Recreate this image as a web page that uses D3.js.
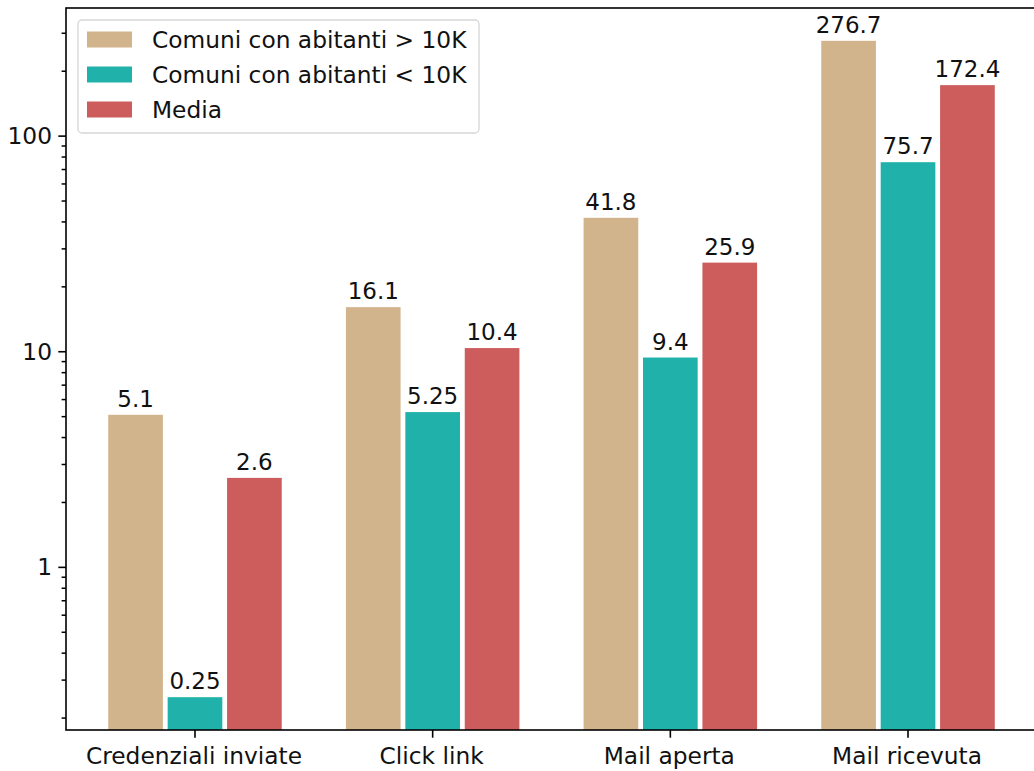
<!DOCTYPE html>
<html>
<head>
<meta charset="utf-8">
<script src="https://cdn.jsdelivr.net/npm/d3@7"></script>
<style>
  html, body { margin: 0; padding: 0; background: #fff; }
  svg { display: block; }
  text { font-family: "DejaVu Sans", sans-serif; fill: #111; }
</style>
</head>
<body>
<svg id="chart" width="1034" height="771"></svg>
<script>
const categories = ["Credenziali inviate", "Click link", "Mail aperta", "Mail ricevuta"];
const seriesNames = ["Comuni con abitanti > 10K", "Comuni con abitanti < 10K", "Media"];
const seriesColors = ["#D2B48C", "#20B2AA", "#CD5C5C"];
const valuesOver10K = [5.1, 16.1, 41.8, 276.7];
const valuesUnder10K = [0.25, 5.25, 9.4, 75.7];
const valuesMedia = [2.6, 10.4, 25.9, 172.4];
const yTickValues = [1, 10, 100];
const yTickLabels = ["1", "10", "100"];

const series = [valuesOver10K, valuesUnder10K, valuesMedia];

const svg = d3.select("#chart");
const plot = { left: 66, right: 1037, top: 8, bottom: 730 };
const fontSize = 23.3;
const valueFontSize = 23;

// log scale with 5% margins in log space
const allVals = series.flat();
const lmin = Math.log10(d3.min(allVals)), lmax = Math.log10(d3.max(allVals));
const pad = (lmax - lmin) * 0.05;
const y = d3.scaleLog()
  .domain([Math.pow(10, lmin - pad), Math.pow(10, lmax + pad)])
  .range([plot.bottom, plot.top]);

const x = d3.scaleLinear()
  .domain([-0.5427, categories.length - 1 + 0.5427])
  .range([plot.left, plot.right]);

const offset = 0.25, barW = 0.23;

const gBars = svg.append("g");
series.forEach((vals, si) => {
  vals.forEach((v, ci) => {
    const cx = x(ci + (si - 1) * offset);
    const w = x(barW) - x(0);
    gBars.append("rect")
      .attr("x", cx - w / 2)
      .attr("y", y(v))
      .attr("width", w)
      .attr("height", plot.bottom - y(v))
      .attr("fill", seriesColors[si]);
    gBars.append("text")
      .attr("x", cx)
      .attr("y", y(v) - 8)
      .attr("text-anchor", "middle")
      .attr("font-size", valueFontSize)
      .text(String(v));
  });
});

// Y axis ticks
const gAxis = svg.append("g");
const [d0, d1] = y.domain();
const minorTicks = [];
for (let e = Math.floor(Math.log10(d0)); e <= Math.ceil(Math.log10(d1)); e++) {
  for (let m = 2; m <= 9; m++) {
    const v = m * Math.pow(10, e);
    if (v >= d0 && v <= d1) minorTicks.push(v);
  }
}
minorTicks.forEach(v => {
  gAxis.append("line")
    .attr("x1", plot.left - 4.4).attr("x2", plot.left)
    .attr("y1", y(v)).attr("y2", y(v))
    .attr("stroke", "#000").attr("stroke-width", 1.5);
});
yTickValues.forEach((v, i) => {
  gAxis.append("line")
    .attr("x1", plot.left - 7.7).attr("x2", plot.left)
    .attr("y1", y(v)).attr("y2", y(v))
    .attr("stroke", "#000").attr("stroke-width", 1.6);
  gAxis.append("text")
    .attr("x", plot.left - 14)
    .attr("y", y(v) + 8)
    .attr("text-anchor", "end")
    .attr("font-size", fontSize)
    .text(yTickLabels[i]);
});

// X axis ticks
categories.forEach((c, i) => {
  gAxis.append("line")
    .attr("x1", x(i)).attr("x2", x(i))
    .attr("y1", plot.bottom).attr("y2", plot.bottom + 7.7)
    .attr("stroke", "#000").attr("stroke-width", 1.6);
  gAxis.append("text")
    .attr("x", x(i) - 1)
    .attr("y", plot.bottom + 34)
    .attr("text-anchor", "middle")
    .attr("font-size", fontSize)
    .text(c);
});

// Frame
svg.append("rect")
  .attr("x", plot.left).attr("y", plot.top)
  .attr("width", plot.right - plot.left).attr("height", plot.bottom - plot.top)
  .attr("fill", "none").attr("stroke", "#000").attr("stroke-width", 1.6);

// Legend
const lg = svg.append("g");
lg.append("rect")
  .attr("x", 78).attr("y", 20).attr("width", 401).attr("height", 113)
  .attr("rx", 4)
  .attr("fill", "#fff").attr("fill-opacity", 0.8)
  .attr("stroke", "#d6d6d6").attr("stroke-width", 1.3);
seriesNames.forEach((name, i) => {
  const cy = 39.5 + i * 35;
  lg.append("rect")
    .attr("x", 87).attr("y", cy - 8).attr("width", 45).attr("height", 16)
    .attr("fill", seriesColors[i]);
  lg.append("text")
    .attr("x", 152).attr("y", cy + 8)
    .attr("font-size", fontSize)
    .text(name);
});
</script>
</body>
</html>
